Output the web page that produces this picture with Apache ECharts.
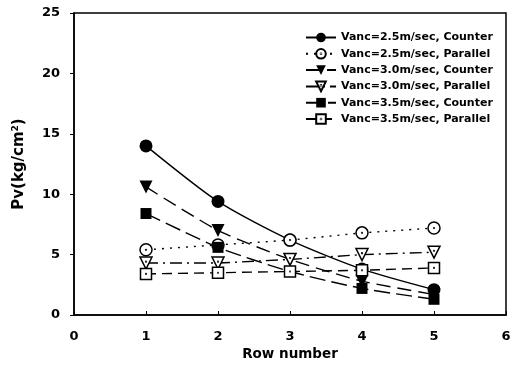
<!DOCTYPE html>
<html>
<head>
<meta charset="utf-8">
<script src="https://cdn.jsdelivr.net/npm/echarts@6/dist/echarts.min.js"></script>
<style>html,body{margin:0;padding:0;background:#fff}#c{width:517px;height:369px}</style>
</head>
<body>
<div id="c"></div>
<script>
const rows = [1, 2, 3, 4, 5];
const xTicks = [0, 1, 2, 3, 4, 5, 6];
const yTicks = [0, 5, 10, 15, 20, 25];
const names = [
  'Vanc=2.5m/sec, Counter',
  'Vanc=2.5m/sec, Parallel',
  'Vanc=3.0m/sec, Counter',
  'Vanc=3.0m/sec, Parallel',
  'Vanc=3.5m/sec, Counter',
  'Vanc=3.5m/sec, Parallel'
];
const v25Counter = [14.0, 9.4, 6.2, 3.8, 2.1];
const v25Parallel = [5.4, 5.8, 6.2, 6.8, 7.2];
const v30Counter = [10.6, 7.0, 4.6, 2.8, 1.7];
const v30Parallel = [4.3, 4.3, 4.6, 5.0, 5.2];
const v35Counter = [8.4, 5.6, 3.6, 2.2, 1.3];
const v35Parallel = [3.4, 3.5, 3.6, 3.7, 3.9];

const FONT = 'DejaVu Sans';
const downTri = 'path://M0,0 L10,0 L5,9 Z';
const openTri = 'path://M0,0 L10,0 L5,9 Z M5.3,3.5 A0.3,0.3 0 1 1 4.7,3.5 A0.3,0.3 0 1 1 5.3,3.5 Z';
const openCircle = 'path://M10,5 A5,5 0 1 1 0,5 A5,5 0 1 1 10,5 Z M5.3,5 A0.3,0.3 0 1 1 4.7,5 A0.3,0.3 0 1 1 5.3,5 Z';
const openRect = 'path://M0,0 L10,0 L10,10 L0,10 Z M5.3,5 A0.3,0.3 0 1 1 4.7,5 A0.3,0.3 0 1 1 5.3,5 Z';
function pts(vals) { return rows.map((r, i) => [r, vals[i]]); }
function mk(name, vals, symbol, size, filled, dash, smooth) {
  return {
    name: name, type: 'line', data: pts(vals), symbol: symbol, symbolSize: size,
    smooth: smooth, showSymbol: true,
    lineStyle: { color: '#000', width: 1.4, type: dash },
    itemStyle: { color: filled ? '#000' : '#fff', borderColor: '#000', borderWidth: filled ? 0 : 1.5 },
    emphasis: { disabled: true }
  };
}
const chart = echarts.init(document.getElementById('c'));
chart.setOption({
  animation: false,
  textStyle: { fontFamily: FONT, fontWeight: 'bold', color: '#000' },
  grid: { left: 74, right: 11, top: 13, bottom: 54, show: true, borderColor: '#000', borderWidth: 1.5 },
  legend: {
    orient: 'vertical', left: 300, top: 27, itemGap: 5, itemWidth: 30, itemHeight: 12,
    data: names,
    textStyle: { fontSize: 11, fontWeight: 'bold', fontFamily: FONT, color: '#000' }
  },
  xAxis: {
    type: 'value', min: 0, max: 6, interval: 1,
    name: 'Row number', nameLocation: 'middle', nameGap: 31,
    nameTextStyle: { fontSize: 13.5, fontWeight: 'bold', fontFamily: FONT, color: '#000' },
    axisLine: { lineStyle: { color: '#000', width: 1.5 } },
    axisTick: { inside: true, length: 4, lineStyle: { color: '#000' } },
    axisLabel: { fontSize: 13, fontWeight: 'bold', fontFamily: FONT, color: '#000', margin: 15 },
    splitLine: { show: false }
  },
  yAxis: {
    type: 'value', min: 0, max: 25, interval: 5,
    name: 'Pv(kg/cm{sup|2})', nameLocation: 'middle', nameGap: 46,
    nameTextStyle: { fontSize: 15, fontWeight: 'bold', fontFamily: FONT, color: '#000',
      rich: { sup: { fontSize: 9, fontWeight: 'bold', fontFamily: FONT, verticalAlign: 'top', padding: [0, 0, 8, 0] } } },
    axisLine: { lineStyle: { color: '#000', width: 1.5 } },
    axisTick: { inside: false, length: 4, lineStyle: { color: '#000' } },
    axisLabel: { fontSize: 13, fontWeight: 'bold', fontFamily: FONT, color: '#000', margin: 14 },
    splitLine: { show: false }
  },
  series: [
    mk(names[0], v25Counter, 'circle', 13, true, 'solid', 0.25),
    mk(names[1], v25Parallel, openCircle, 12, false, [2, 6], false),
    mk(names[2], v30Counter, downTri, 13, true, [14, 7], 0.2),
    mk(names[3], v30Parallel, openTri, 12, false, [12, 5, 2, 5], false),
    mk(names[4], v35Counter, 'rect', 11, true, [16, 6], 0.2),
    mk(names[5], v35Parallel, openRect, 11, false, [10, 6], false)
  ]
});
</script>
</body>
</html>
